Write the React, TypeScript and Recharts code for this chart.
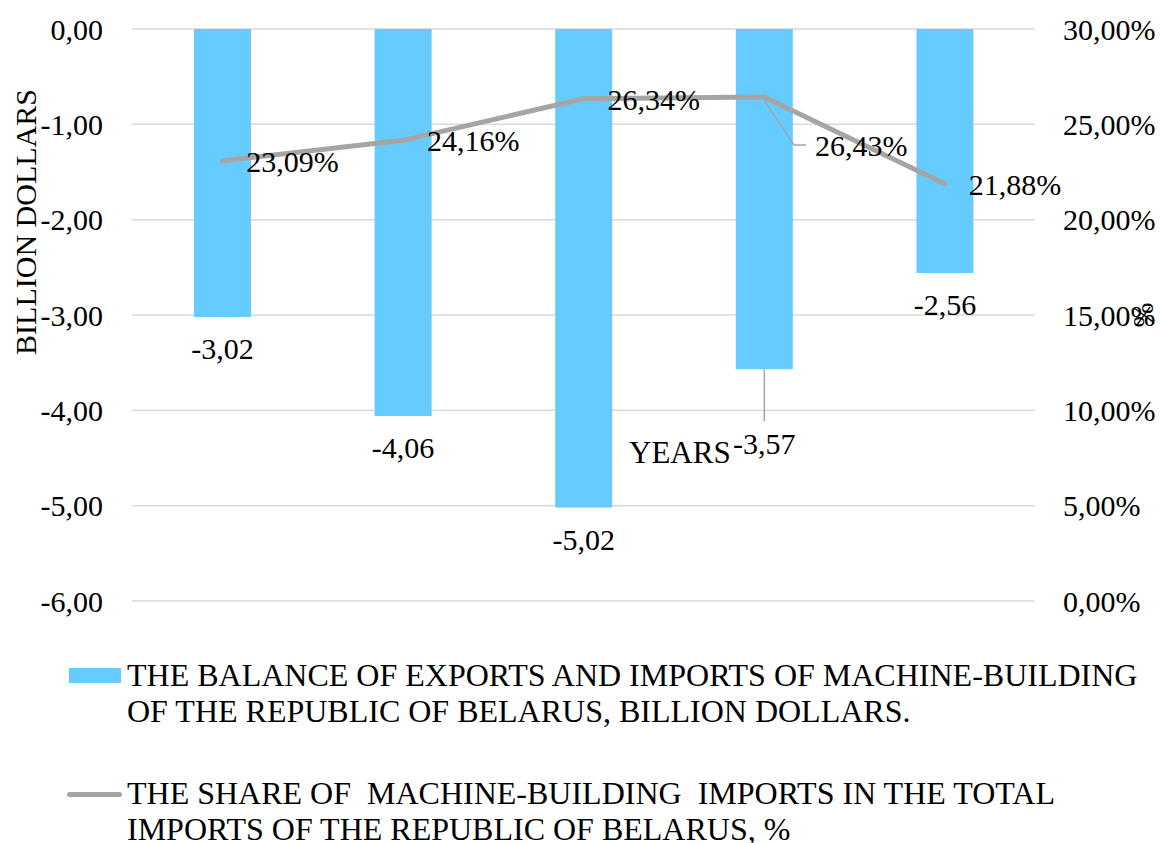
import { ComposedChart, Bar, Line, XAxis, YAxis, CartesianGrid, LabelList } from 'recharts'

const YEARS = ['2017', '2018', '2019', '2020', '2021']
const BALANCE = [-3.02, -4.06, -5.02, -3.57, -2.56]
const SHARE = [23.09, 24.16, 26.34, 26.43, 21.88]
const LEFT_TICKS = [-6, -5, -4, -3, -2, -1, 0]
const RIGHT_TICKS = [0, 5, 10, 15, 20, 25, 30]

const LEGEND_BAR = ['THE BALANCE OF EXPORTS AND IMPORTS OF MACHINE-BUILDING', 'OF THE REPUBLIC OF BELARUS, BILLION DOLLARS.']
const LEGEND_LINE = ['THE SHARE OF  MACHINE-BUILDING  IMPORTS IN THE TOTAL', 'IMPORTS OF THE REPUBLIC OF BELARUS, %']

const data = YEARS.map((year, i) => ({ year, balance: BALANCE[i], share: SHARE[i] }))

const FONT = 'Liberation Serif'
const BLUE = '#66CCFF'
const GRAY = '#A5A5A5'
const fmt = (v: number) => v.toFixed(2).replace('.', ',')

const tickStyle = { fill: '#000', fontSize: 30, fontFamily: FONT }

function YearTick(props: any) {
  const { x, y, payload } = props
  return (
    <text x={x} y={y + 56} textAnchor="middle" fill="#000" fontSize={30} fontFamily={FONT}>
      {payload.value}
    </text>
  )
}

function BarLabel(props: any) {
  const { x, y, width, height, value, index } = props
  const cx = x + width / 2
  const end = Math.max(y, y + height)
  if (index === 3) {
    return (
      <g>
        <line x1={cx} y1={end} x2={cx} y2={end + 52} stroke={GRAY} strokeWidth={1.5} />
        <text x={cx} y={end + 85} textAnchor="middle" fill="#000" fontSize={30} fontFamily={FONT}>
          {fmt(value)}
        </text>
      </g>
    )
  }
  return (
    <text x={cx} y={end + 42} textAnchor="middle" fill="#000" fontSize={30} fontFamily={FONT}>
      {fmt(value)}
    </text>
  )
}

function LineLabel(props: any) {
  const { x, y, value, index } = props
  if (index === 3) {
    return (
      <g>
        <polyline points={`${x},${y + 3} ${x + 30},${y + 48} ${x + 42},${y + 48}`} fill="none" stroke={GRAY} strokeWidth={1.5} />
        <text x={x + 51} y={y + 59} fill="#000" fontSize={30} fontFamily={FONT}>
          {fmt(value)}%
        </text>
      </g>
    )
  }
  return (
    <text x={x + 24} y={y + 11} fill="#000" fontSize={30} fontFamily={FONT}>
      {fmt(value)}%
    </text>
  )
}

// axis titles: Excel left them at odd spots, kept as in the original
function LeftTitles() {
  return (
    <g>
      <text x={36} y={222} transform="rotate(-90 36 222)" textAnchor="middle" fill="#000" fontSize={30} fontFamily={FONT}>
        BILLION DOLLARS
      </text>
      <text x={629} y={463} fill="#000" fontSize={31} fontFamily={FONT}>
        YEARS
      </text>
    </g>
  )
}

export default function App() {
  return (
    <div style={{ position: 'absolute', left: 0, top: 0, width: 1160, height: 843, background: '#fff', fontFamily: FONT }}>
      <ComposedChart width={1160} height={843} data={data} margin={{ top: 29, right: 0, bottom: 242, left: 0 }}>
        <CartesianGrid yAxisId="left" vertical={false} stroke="#D9D9D9" strokeWidth={1.5} />
        <XAxis dataKey="year" orientation="top" height={0} axisLine={false} tickLine={false} tick={<YearTick />} />
        <YAxis
          yAxisId="left"
          width={132}
          domain={[-6, 0]}
          ticks={LEFT_TICKS}
          tickFormatter={fmt}
          axisLine={false}
          tickLine={false}
          tickMargin={23}
          tick={tickStyle}
          label={{ value: 'BILLION DOLLARS', content: () => <LeftTitles /> }}
        />
        <YAxis
          yAxisId="right"
          orientation="right"
          width={125}
          domain={[0, 30]}
          ticks={RIGHT_TICKS}
          tickFormatter={(v: number) => fmt(v) + '%'}
          axisLine={false}
          tickLine={false}
          tickMargin={22}
          tick={tickStyle}
          label={{
            value: '%',
            content: () => (
              <text x={1153} y={315} transform="rotate(-90 1153 315)" textAnchor="middle" fill="#000" fontSize={30} fontFamily={FONT}>
                %
              </text>
            ),
          }}
        />
        <Bar yAxisId="left" dataKey="balance" fill={BLUE} barSize={57} isAnimationActive={false}>
          <LabelList dataKey="balance" content={<BarLabel />} />
        </Bar>
        <Line
          yAxisId="right"
          dataKey="share"
          type="linear"
          stroke={GRAY}
          strokeWidth={5}
          strokeLinecap="round"
          dot={false}
          isAnimationActive={false}
        >
          <LabelList dataKey="share" content={<LineLabel />} />
        </Line>
      </ComposedChart>

      <div style={{ position: 'absolute', left: 69, top: 668, width: 52, height: 15, background: BLUE }} />
      <div style={{ position: 'absolute', left: 127, top: 657, fontSize: 32, lineHeight: '36px', color: '#000' }}>
        {LEGEND_BAR.map((t) => (
          <div key={t} style={{ whiteSpace: 'pre' }}>{t}</div>
        ))}
      </div>
      <div style={{ position: 'absolute', left: 67, top: 791.5, width: 55, height: 5, borderRadius: 3, background: GRAY }} />
      <div style={{ position: 'absolute', left: 127, top: 775, fontSize: 32, lineHeight: '36px', color: '#000' }}>
        {LEGEND_LINE.map((t) => (
          <div key={t} style={{ whiteSpace: 'pre' }}>{t}</div>
        ))}
      </div>
    </div>
  )
}
